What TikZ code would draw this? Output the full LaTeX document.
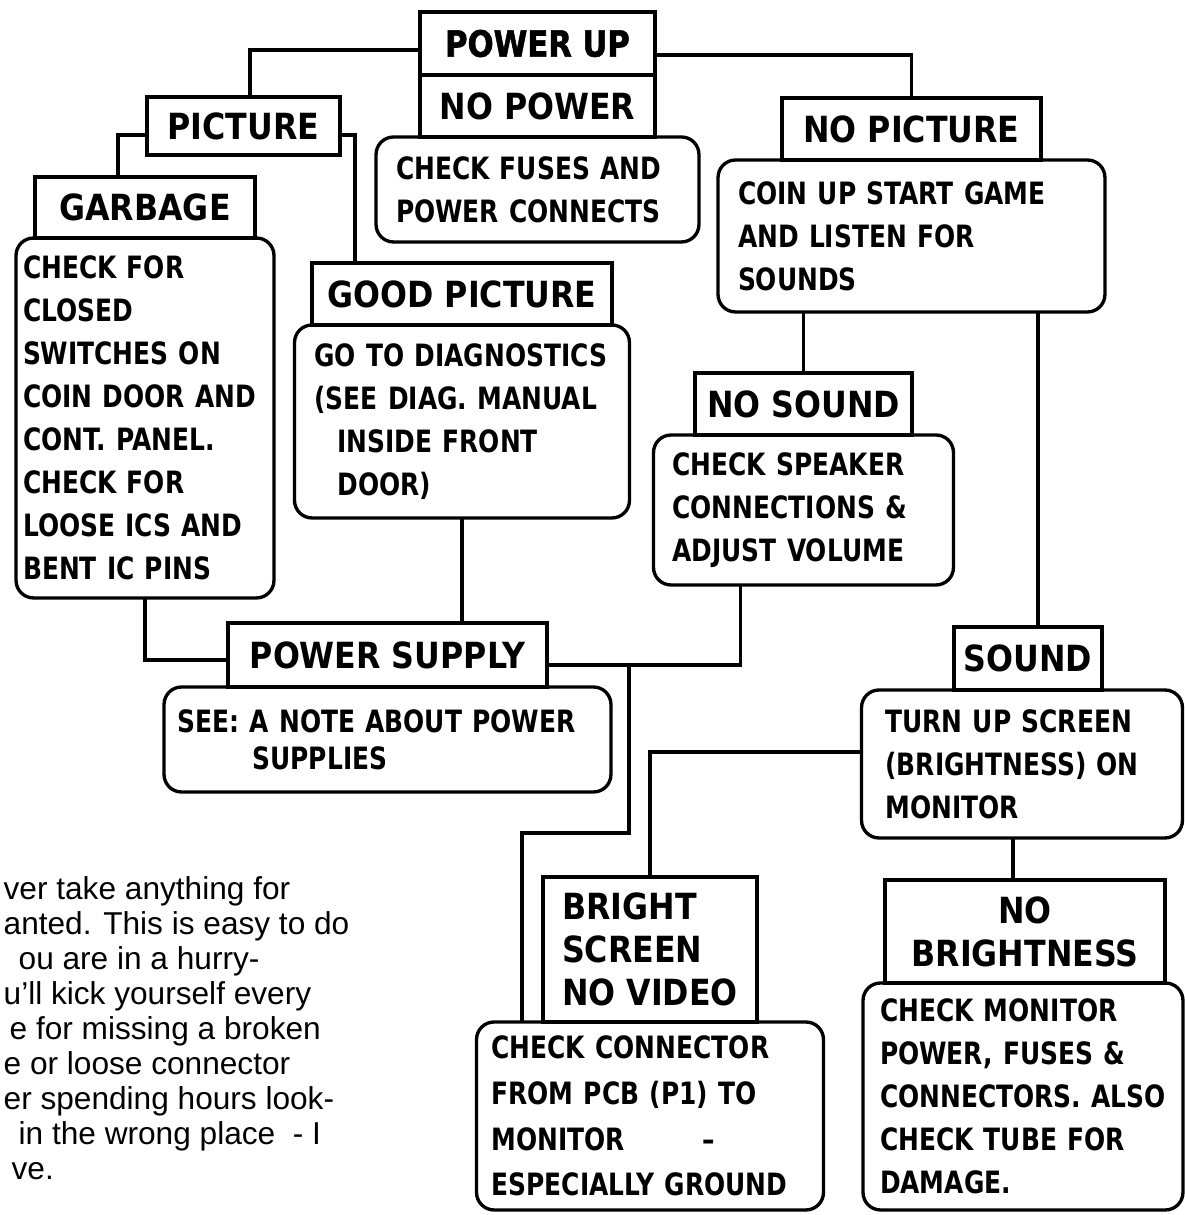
\documentclass[tikz,border=0pt]{standalone}
\usepackage{fontspec}
\setmainfont{Liberation Sans}
\newfontfamily\boxfont{DejaVu Sans}[FakeStretch=0.81]
\newfontfamily\headfont{DejaVu Sans}[FakeStretch=0.88]
\newfontfamily\topfont{DejaVu Sans}[FakeStretch=0.85,BoldFeatures={FakeBold=1.5}]
\usetikzlibrary{positioning}

\begin{document}
\begin{tikzpicture}[x=0.02cm,y=-0.02cm,line width=1.9pt,
  hdr/.style={draw,rectangle,outer sep=0pt,inner sep=2pt,align=center,font=\headfont\bfseries\fontsize{20.5}{24.5}\selectfont},
  ans/.style={draw,rectangle,rounded corners=0.35cm,outer sep=0pt,inner xsep=0.4cm,inner ysep=2pt,align=left,font=\boxfont\bfseries\fontsize{17.5}{24.5}\selectfont},
  tip/.style={inner sep=0pt,align=left,font=\fontsize{18}{19.9}\selectfont}]
\useasboundingbox (0,0) rectangle (1185,1215);

% Power up and the no power branch
\node[hdr,font=\topfont\bfseries\fontsize{20.5}{24}\selectfont,minimum width=4.7cm,minimum height=1.26cm] (pwrup) at (537.5,43.5) {POWER UP};
\node[hdr,minimum width=4.7cm,minimum height=1.24cm,below=0pt of pwrup] (nopwr) {NO POWER};
\node[ans,text width=5.66cm,minimum height=2.1cm,below=0pt of nopwr] (fuses) {CHECK FUSES AND\\POWER CONNECTS};

% Picture branch
\node[hdr,minimum width=3.86cm,minimum height=1.16cm] (pict) at (243.5,126) {PICTURE};
\node[hdr,minimum width=4.4cm,minimum height=1.22cm] (garb) at (145,207.5) {GARBAGE};
\node[ans,inner xsep=0.14cm,text width=4.88cm,minimum height=7.2cm,below=0pt of garb] (check) {CHECK FOR\\CLOSED\\SWITCHES ON\\COIN DOOR AND\\CONT. PANEL.\\CHECK FOR\\LOOSE ICS AND\\BENT IC PINS};
\node[hdr,minimum width=6.0cm,minimum height=1.24cm] (good) at (462,294) {GOOD PICTURE};
\node[ans,text width=5.9cm,minimum height=3.86cm,below=0pt of good] (diag) {GO TO DIAGNOSTICS\\(SEE DIAG. MANUAL\\\hspace*{0.46cm}INSIDE FRONT\\\hspace*{0.46cm}DOOR)};

% No picture branch
\node[hdr,minimum width=5.18cm,minimum height=1.24cm] (nopict) at (911.5,129) {NO PICTURE};
\node[ans,text width=6.94cm,minimum height=3.04cm,below=0pt of nopict] (coin) {COIN UP START GAME\\AND LISTEN FOR\\SOUNDS};
\node[hdr,minimum width=4.34cm,minimum height=1.24cm] (nosnd) at (803.5,404) {NO SOUND};
\node[ans,inner xsep=0.38cm,text width=5.24cm,minimum height=3.0cm,below=0pt of nosnd] (spkr) {CHECK SPEAKER\\CONNECTIONS \&\\ADJUST VOLUME};
\node[hdr,minimum width=2.96cm,minimum height=1.26cm] (snd) at (1028,658.5) {SOUND};
\node[ans,inner xsep=0.48cm,text width=5.46cm,minimum height=2.96cm,below=0pt of snd,xshift=-0.12cm] (turn) {TURN UP SCREEN\\(BRIGHTNESS) ON\\MONITOR};

% Power supply
\node[hdr,minimum width=6.38cm,minimum height=1.28cm] (psu) at (387.5,655) {POWER SUPPLY};
\node[ans,inner xsep=0.27cm,text width=8.4cm,minimum height=2.1cm,below=0pt of psu,font=\boxfont\bfseries\fontsize{17.5}{21}\selectfont] (note) {SEE: A NOTE ABOUT POWER\\\hspace*{1.5cm}SUPPLIES};

% Monitor checks
\node[hdr,align=left,minimum width=4.28cm,minimum height=2.9cm] (bright) at (650,949.5) {BRIGHT\\SCREEN\\NO VIDEO};
\node[ans,inner xsep=0.3cm,text width=6.34cm,minimum height=3.76cm,below=0pt of bright,font=\boxfont\bfseries\fontsize{17.5}{26}\selectfont] (conn) {CHECK CONNECTOR\\FROM PCB (P1) TO\\MONITOR\hspace*{1.55cm}–\\ESPECIALLY GROUND};
\node[hdr,minimum width=5.6cm,minimum height=2.06cm] (nobrt) at (1025,931.5) {NO\\BRIGHTNESS};
\node[ans,inner xsep=0.34cm,text width=5.72cm,minimum height=4.54cm,below=0pt of nobrt,xshift=-0.04cm] (mon) {CHECK MONITOR\\POWER, FUSES \&\\CONNECTORS. ALSO\\CHECK TUBE FOR\\DAMAGE.};

% Side note
\node[tip,anchor=north west] (hint) at (2,875) {ver take anything for\\anted. This is easy to do\\\hspace*{0.3cm}ou are in a hurry-\\u’ll kick yourself every\\\hspace*{0.12cm}e for missing a broken\\e or loose connector\\er spending hours look-\\\hspace*{0.3cm}in the wrong place~ - I\\\hspace*{0.16cm}ve.};

% Connections
\coordinate (sndin) at ([xshift=0.2cm]snd.north);
\coordinate (brtin) at ([xshift=-0.24cm]nobrt.north);
\coordinate (tee) at (629,665);
\coordinate (jog) at (522,833);
\draw ([yshift=-0.13cm]pwrup.west) -| ([xshift=0.13cm]pict.north);
\draw ([yshift=-0.23cm]pwrup.east) -| (nopict.north);
\draw ([yshift=-0.18cm]pict.west) -| ([xshift=-0.54cm]garb.north);
\draw ([yshift=-0.18cm]pict.east) -| ([xshift=-2.14cm]good.north);
\draw (coin.south -| nosnd.north) -- (nosnd.north);
\draw (sndin |- coin.south) -- (sndin);
\draw (check.south) |- ([yshift=-0.1cm]psu.west);
\draw (diag.south) -- (diag.south |- psu.north);
\draw ([xshift=-1.26cm]spkr.south) |- ([yshift=-0.2cm]psu.east);
\draw (tee) |- (jog) -- (jog |- conn.north);
\draw ([yshift=0.24cm]turn.west) -| (bright.north);
\draw (turn.south -| brtin) -- (brtin);
\end{tikzpicture}
\end{document}
